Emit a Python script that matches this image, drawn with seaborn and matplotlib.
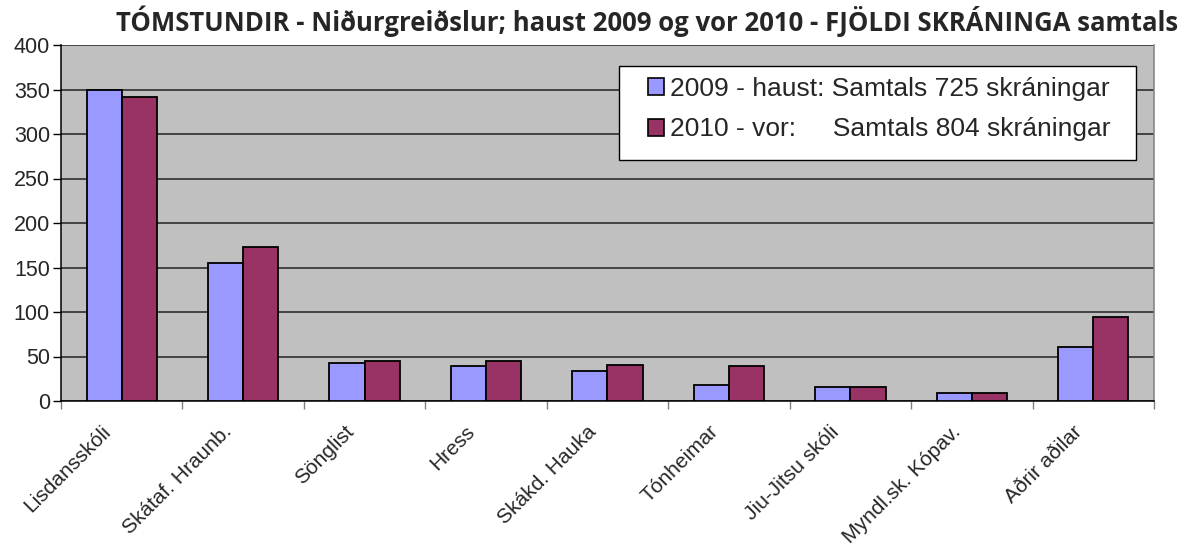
import numpy as np
import pandas as pd
import matplotlib
matplotlib.use("Agg")
import matplotlib.pyplot as plt
from matplotlib.patches import Rectangle
from matplotlib.transforms import ScaledTranslation
import seaborn as sns

categories = ["Lisdansskóli", "Skátaf. Hraunb.", "Sönglist", "Hress", "Skákd. Hauka",
              "Tónheimar", "Jiu-Jitsu skóli", "Myndl.sk. Kópav.", "Aðrir aðilar"]
haust_2009 = [350, 155, 43, 39, 34, 18, 16, 9, 61]
vor_2010 = [342, 173, 45, 45, 41, 39, 16, 9, 94]
series_labels = ["2009 - haust: Samtals 725 skráningar",
                 "2010 - vor:     Samtals 804 skráningar"]
title = "TÓMSTUNDIR - Niðurgreiðslur; haust 2009 og vor 2010 - FJÖLDI SKRÁNINGA samtals"

df = pd.DataFrame({
    "flokkur": categories * 2,
    "fjoldi": haust_2009 + vor_2010,
    "timabil": [series_labels[0]] * len(categories) + [series_labels[1]] * len(categories),
})

sns.set_theme(style="white")
plt.rcParams["font.family"] = ["Liberation Sans", "DejaVu Sans"]

W, H = 1183, 551
fig = plt.figure(figsize=(W / 100, H / 100), dpi=100)
ax = fig.add_axes([61 / W, 1 - 401 / H, (1154 - 61) / W, (401 - 45) / H])

sns.barplot(data=df, x="flokkur", y="fjoldi", hue="timabil", order=categories,
            palette=["#9999FF", "#993366"], width=0.58, edgecolor="black",
            linewidth=1.3, saturation=1, ax=ax, zorder=3)

ax.set_facecolor("#C0C0C0")
ax.set_ylim(0, 400)
ax.set_xlim(-0.5, len(categories) - 0.5)
ax.set_yticks(np.arange(0, 401, 50))
ax.yaxis.grid(True, color="#222222", linewidth=1.1, zorder=0)
ax.set_axisbelow(True)
ax.set_xlabel("")
ax.set_ylabel("")

ax.spines["top"].set_visible(False)
ax.spines["right"].set_color("#808080")
ax.spines["left"].set_color("black")
ax.spines["bottom"].set_color("black")
for s in ["left", "bottom", "right"]:
    ax.spines[s].set_linewidth(1.1)

ax.tick_params(axis="y", which="major", direction="out", length=6, width=1,
               color="black", labelsize=15.5, pad=2, left=True)
ax.set_xticks(range(len(categories)))
ax.set_xticklabels(categories, rotation=45, ha="right", va="center",
                   rotation_mode="anchor", fontsize=15)
ax.tick_params(axis="x", which="major", length=0, pad=20)
ax.set_xticks(np.arange(-0.5, len(categories), 1), minor=True)
ax.tick_params(axis="x", which="minor", direction="out", length=6, width=1,
               color="#808080", bottom=True)
shift = ScaledTranslation(-14 / 100, 0, fig.dpi_scale_trans)
for lbl in ax.get_xticklabels():
    lbl.set_transform(lbl.get_transform() + shift)

# legend box (Excel style: wide side padding)
def to_ax(px, py):
    return (px - 61) / (1154 - 61), (401 - py) / (401 - 45)

x0, y1 = to_ax(619, 66)
x1, y0 = to_ax(1136, 160)
ax.add_patch(Rectangle((x0, y0), x1 - x0, y1 - y0, transform=ax.transAxes,
                       facecolor="white", edgecolor="black", linewidth=1.0, zorder=5))

lx, ly = to_ax(648, 77)
leg = ax.legend(loc="upper left", bbox_to_anchor=(lx, ly), borderaxespad=0,
                fontsize=19, frameon=False, handlelength=0.62, handleheight=0.62,
                handletextpad=0.22, labelspacing=0.62, borderpad=0)
leg.set_zorder(6)
for h in leg.legend_handles:
    h.set_edgecolor("black")
    h.set_linewidth(1.2)

fig.text(647 / W, 1 - 31 / H, title, ha="center", va="baseline",
         fontsize=18.5, fontweight="bold", family=["Open Sans", "DejaVu Sans"])

fig.savefig("out.png", dpi=100)
